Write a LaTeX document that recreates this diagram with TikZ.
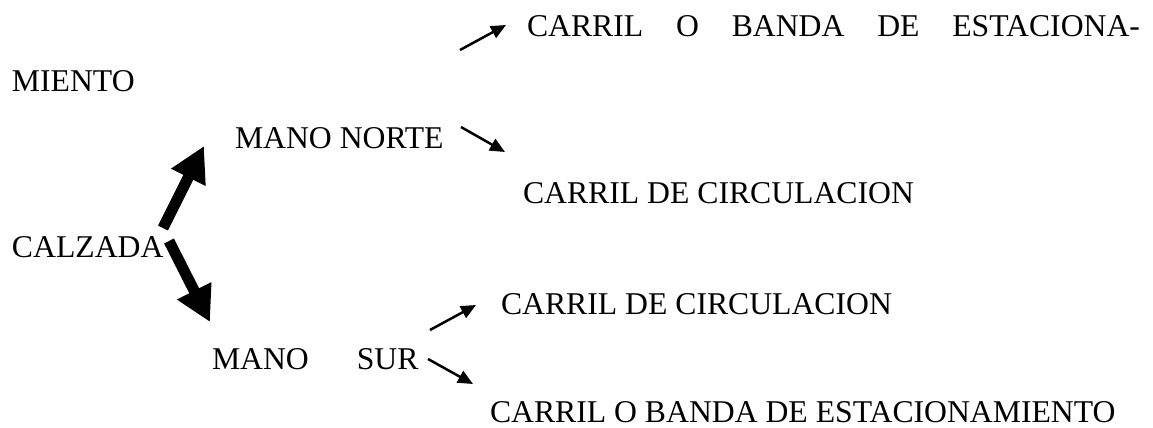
\documentclass[tikz,border=0pt]{standalone}
\usepackage{fontspec}
\setmainfont{Liberation Serif}
\usetikzlibrary{arrows.meta}
\begin{document}
\begin{tikzpicture}[x=1pt,y=-1pt,
  lbl/.style={anchor=base west,inner sep=0pt,outer sep=0pt,text depth=0pt,font=\fontsize{31.7}{38}\selectfont},
  bigarrow/.style={line width=11pt,-{Triangle[length=35pt,width=36pt]}},
  smallarrow/.style={line width=2.5pt,-{Triangle[length=15pt,width=13pt]}}]
\useasboundingbox (0,0) rectangle (1153,428);
% texts
\node[lbl] (top) at (527,37) {\makebox[613pt][s]{CARRIL O BANDA DE ESTACIONA-}};
\node[lbl] (mi) at (12,92) {MIENTO};
\node[lbl] (mn) at (235,148) {MANO NORTE};
\node[lbl] (cc1) at (523,203) {CARRIL DE CIRCULACION};
\node[lbl] (cal) at (12,257) {CALZADA};
\node[lbl] (cc2) at (501,314) {CARRIL DE CIRCULACION};
\node[lbl] (ms) at (212,369) {MANO\hspace*{48pt}SUR};
\node[lbl] (cbe) at (490,422) {CARRIL O BANDA DE ESTACIONAMIENTO};
% arrow end points
\coordinate (u0) at (163,228);
\coordinate (u1) at (204,146);
\coordinate (d0) at (169,241);
\coordinate (d1) at (210,322);
\coordinate (a0) at (460,50);
\coordinate (a1) at (506,25);
\coordinate (b0) at (461,127);
\coordinate (b1) at (505,152);
\coordinate (c0) at (430,330);
\coordinate (c1) at (476,305);
\coordinate (e0) at (428,359);
\coordinate (e1) at (473,384);
% arrows
\draw[bigarrow] (u0) -- (u1);
\draw[bigarrow] (d0) -- (d1);
\draw[smallarrow] (a0) -- (a1);
\draw[smallarrow] (b0) -- (b1);
\draw[smallarrow] (c0) -- (c1);
\draw[smallarrow] (e0) -- (e1);
\end{tikzpicture}
\end{document}
